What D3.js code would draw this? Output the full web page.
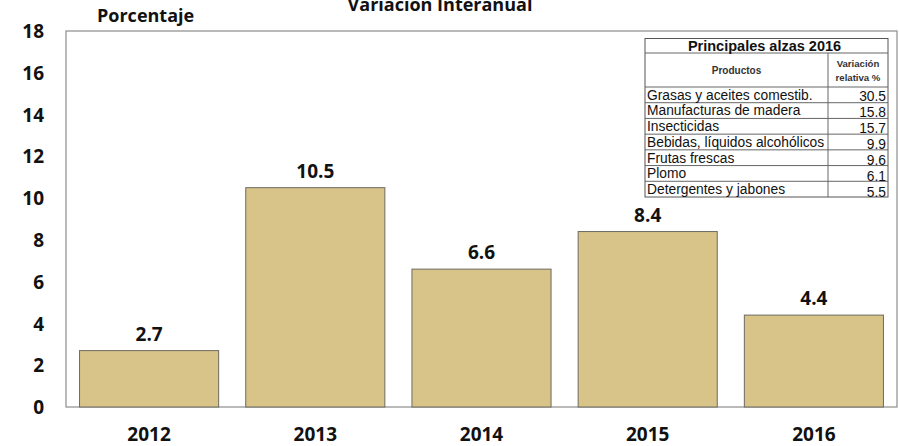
<!DOCTYPE html>
<html><head><meta charset="utf-8">
<script src="https://cdn.jsdelivr.net/npm/d3@7"></script>
<style>
html,body{margin:0;padding:0;background:#fff;}
svg{display:block;}
</style></head>
<body>
<svg id="chart" width="899" height="446"></svg>
<script>
const years = ["2012","2013","2014","2015","2016"];
const values = [2.7, 10.5, 6.6, 8.4, 4.4];
const yTicks = [0,2,4,6,8,10,12,14,16,18];
const products = ["Grasas y aceites comestib.","Manufacturas de madera","Insecticidas","Bebidas, líquidos alcohólicos","Frutas frescas","Plomo","Detergentes y jabones"];
const productValues = ["30.5","15.8","15.7","9.9","9.6","6.1","5.5"];
const chartTitle = "Variación Interanual";
const yTitle = "Porcentaje";
const tableTitle = "Principales alzas 2016";

const svg = d3.select("#chart");
const M = {left:66, right:897, top:31, bottom:407};
const boldFont = "'Open Sans', sans-serif";
const tblFont = "'Liberation Sans', Arial, sans-serif";

const x = d3.scaleBand().domain(years).range([M.left, M.right]).paddingInner(0.163).paddingOuter(0.0815);
const y = d3.scaleLinear().domain([0,18]).range([M.bottom, M.top]);

// plot frame
svg.append("rect").attr("x",M.left).attr("y",M.top).attr("width",M.right-M.left).attr("height",M.bottom-M.top)
  .attr("fill","none").attr("stroke","#8c8c8c").attr("stroke-width",1.2);

// y axis labels
const yAxis = d3.axisLeft(y).tickValues(yTicks).tickSize(0).tickPadding(0);
const gy = svg.append("g").attr("transform",`translate(44,0)`).call(yAxis);
gy.select(".domain").remove();
gy.selectAll("text").attr("font-family",boldFont).attr("font-weight",700).attr("font-size",19).attr("fill","#111").attr("dy","0.35em");

// x axis labels
const xAxis = d3.axisBottom(x).tickSize(0).tickPadding(0);
const gx = svg.append("g").attr("transform",`translate(0,${M.bottom})`).call(xAxis);
gx.select(".domain").remove();
gx.selectAll("text").attr("font-family",boldFont).attr("font-weight",700).attr("font-size",19).attr("fill","#111").attr("dy",0).attr("y",33.5);

// bars
svg.append("g").selectAll("rect").data(values).join("rect")
  .attr("x",(d,i)=>x(years[i])).attr("width",x.bandwidth())
  .attr("y",d=>y(d)).attr("height",d=>y(0)-y(d))
  .attr("fill","#D8C489").attr("stroke","#6e6a60").attr("stroke-width",1);

// value labels
svg.append("g").selectAll("text").data(values).join("text")
  .attr("x",(d,i)=>x(years[i])+x.bandwidth()/2).attr("y",d=>y(d)-10)
  .attr("text-anchor","middle").attr("font-family",boldFont).attr("font-weight",700).attr("font-size",19).attr("fill","#111")
  .text(d=>d.toFixed(1));

// titles
svg.append("text").attr("x",440).attr("y",11).attr("text-anchor","middle").attr("font-family",boldFont).attr("font-weight",700).attr("font-size",18).attr("fill","#111").text(chartTitle);
svg.append("text").attr("x",97).attr("y",22).attr("font-family",boldFont).attr("font-weight",700).attr("font-size",18).attr("fill","#111").text(yTitle);

// table
const T = {x0:645, x1:888, xd:828, top:38.5, titleBottom:53, headBottom:87, bottom:197};
const rowY = d3.scaleBand().domain(d3.range(products.length)).range([T.headBottom, T.bottom]);
const tg = svg.append("g");
tg.append("rect").attr("x",T.x0).attr("y",T.top).attr("width",T.x1-T.x0).attr("height",T.bottom-T.top)
  .attr("fill","#fff").attr("stroke","#555").attr("stroke-width",1);
const hl = [T.titleBottom, T.headBottom].concat(d3.range(1,products.length).map(i=>rowY(i)));
tg.selectAll("line.h").data(hl).join("line").attr("class","h")
  .attr("x1",T.x0).attr("x2",T.x1).attr("y1",d=>d).attr("y2",d=>d).attr("stroke","#666").attr("stroke-width",1);
tg.append("line").attr("x1",T.xd).attr("x2",T.xd).attr("y1",T.titleBottom).attr("y2",T.bottom).attr("stroke","#666").attr("stroke-width",1);
tg.append("text").attr("x",(T.x0+T.x1)/2 - 2).attr("y",T.titleBottom-2).attr("text-anchor","middle")
  .attr("font-family",tblFont).attr("font-weight",700).attr("font-size",14.5).attr("fill","#111").text(tableTitle);
tg.append("text").attr("x",(T.x0+T.xd)/2).attr("y",73.5).attr("text-anchor","middle")
  .attr("font-family",tblFont).attr("font-weight",700).attr("font-size",10).attr("fill","#333").text("Productos");
tg.append("text").attr("x",(T.xd+T.x1)/2).attr("y",67).attr("text-anchor","middle")
  .attr("font-family",tblFont).attr("font-weight",700).attr("font-size",9.6).attr("fill","#333").text("Variación");
tg.append("text").attr("x",(T.xd+T.x1)/2).attr("y",81).attr("text-anchor","middle")
  .attr("font-family",tblFont).attr("font-weight",700).attr("font-size",9.6).attr("fill","#333").text("relativa %");
tg.selectAll("text.p").data(products).join("text").attr("class","p")
  .attr("x",T.x0+2).attr("y",(d,i)=>rowY(i)+rowY.bandwidth()-3)
  .attr("font-family",tblFont).attr("font-size",13.8).attr("fill","#111").text(d=>d);
tg.selectAll("text.v").data(productValues).join("text").attr("class","v")
  .attr("x",T.x1-2).attr("y",(d,i)=>rowY(i)+rowY.bandwidth()-2+ i*0.4)
  .attr("text-anchor","end").attr("font-family",tblFont).attr("font-size",13.8).attr("fill","#111").text(d=>d);
</script>
</body></html>
